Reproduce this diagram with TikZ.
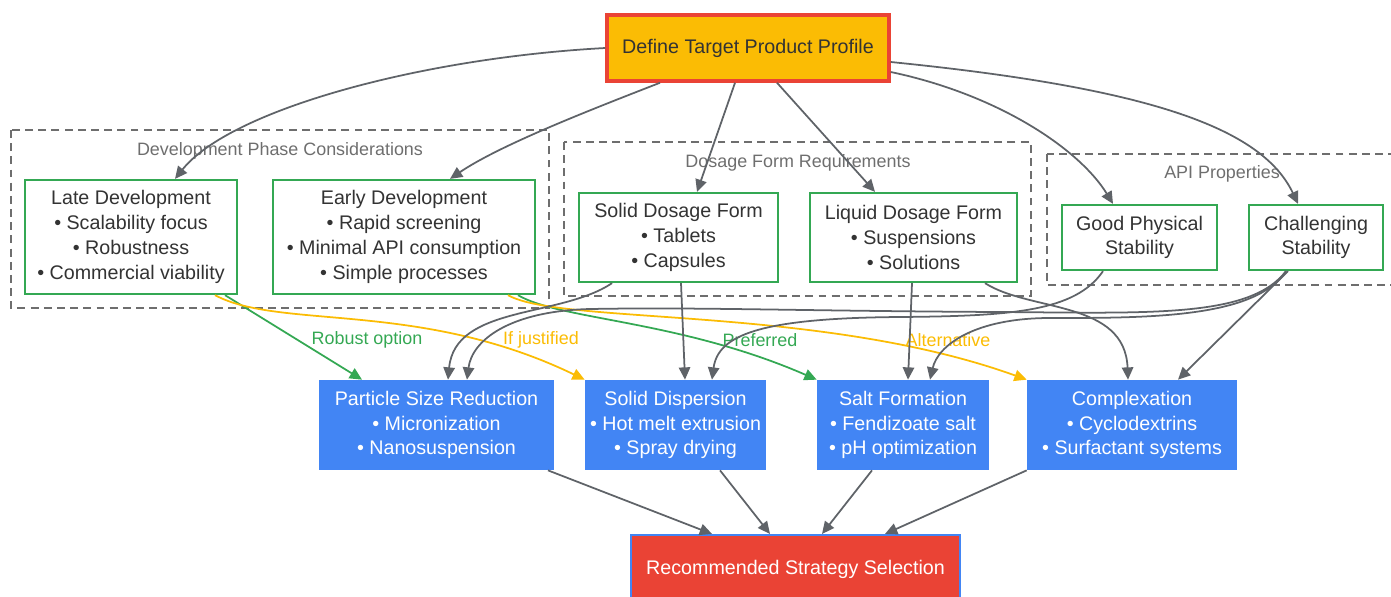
\documentclass[tikz,border=0pt]{standalone}
\usepackage{fontspec}
\setmainfont{Liberation Sans}
\usetikzlibrary{arrows.meta}
\definecolor{jaune}{HTML}{FBBC04}
\definecolor{rouge}{HTML}{EA4335}
\definecolor{vert}{HTML}{34A853}
\definecolor{bleu}{HTML}{4285F4}
\definecolor{grisfleche}{HTML}{5F6368}
\definecolor{griscadre}{HTML}{6E6E6E}
\definecolor{texte}{HTML}{333333}
\newcommand{\taillenormale}{\fontsize{11.2pt}{14.1pt}\selectfont}
\newcommand{\taillepetite}{\fontsize{10.2pt}{12pt}\selectfont}
\tikzstyle{boite} = [rectangle, align=center, font=\taillenormale, text=texte, inner sep=2pt]
\tikzstyle{profil} = [boite, draw=rouge, line width=2pt, fill=jaune]
\tikzstyle{critere} = [boite, draw=vert, line width=1.3pt, fill=white]
\tikzstyle{methode} = [boite, fill=bleu, text=white]
\tikzstyle{resultat} = [boite, draw=bleu, line width=1.2pt, fill=rouge, text=white]
\tikzstyle{cadre} = [draw=griscadre, dash pattern=on 4.5pt off 3pt, line width=0.9pt]
\tikzstyle{titre} = [text=griscadre, font=\taillepetite]
\tikzstyle{etiquette} = [font=\taillepetite]
\tikzstyle{lien} = [draw=grisfleche, line width=1pt, ->]

\begin{document}
\begin{tikzpicture}[x=0.02cm, y=-0.02cm, >={Triangle[length=7pt,width=6.5pt]}]

        \useasboundingbox (0,0) rectangle (1391,596);
        \clip (0,0) rectangle (1391,596);

        % groupes
        \draw[cadre] (11,130) rectangle (549,308);
        \draw[cadre] (564,142) rectangle (1031,296);
        \draw[cadre] (1047,154) rectangle (1420,285);
        \node (titredev) [titre] at (280,151) {Development Phase Considerations};
        \node (titreforme) [titre] at (798,163) {Dosage Form Requirements};
        \node (titreapi) [titre] at (1222,174) {API Properties};

        \node (cible) [profil, minimum width=5.64cm, minimum height=1.32cm] at (748,48) {Define Target Product Profile};

        \node (tardif) [critere, minimum width=4.24cm, minimum height=2.28cm] at (131,237) {Late Development\\• Scalability focus\\• Robustness\\• Commercial viability};
        \node (precoce) [critere, minimum width=5.24cm, minimum height=2.28cm] at (404,237) {Early Development\\• Rapid screening\\• Minimal API consumption\\• Simple processes};
        \node (solide) [critere, minimum width=3.98cm, minimum height=1.78cm] at (678.5,237.5) {Solid Dosage Form\\• Tablets\\• Capsules};
        \node (liquide) [critere, minimum width=4.14cm, minimum height=1.78cm] at (913.5,237.5) {Liquid Dosage Form\\• Suspensions\\• Solutions};
        \node (stable) [critere, minimum width=3.1cm, minimum height=1.3cm] at (1139.5,237.5) {Good Physical\\Stability};
        \node (instable) [critere, minimum width=2.68cm, minimum height=1.3cm] at (1316,237.5) {Challenging\\Stability};

        \node (taille) [methode, minimum width=4.7cm, minimum height=1.8cm] at (436.5,425) {Particle Size Reduction\\• Micronization\\• Nanosuspension};
        \node (dispersion) [methode, minimum width=3.62cm, minimum height=1.8cm] at (675.5,425) {Solid Dispersion\\• Hot melt extrusion\\• Spray drying};
        \node (sel) [methode, minimum width=3.44cm, minimum height=1.8cm] at (903,425) {Salt Formation\\• Fendizoate salt\\• pH optimization};
        \node (complexe) [methode, minimum width=4.2cm, minimum height=1.8cm] at (1132,425) {Complexation\\• Cyclodextrins\\• Surfactant systems};

        \node (choix) [resultat, minimum width=6.58cm, minimum height=1.36cm] at (795.5,569) {Recommended Strategy Selection};

        % depuis le profil
        \draw[lien] (cible.west) .. controls (420,58) and (230,110) .. ([xshift=0.88cm]tardif.north);
        \draw[lien] ([xshift=-1.76cm]cible.south) .. controls (590,110) and (500,145) .. ([xshift=0.92cm]precoce.north);
        \draw[lien] ([xshift=-0.26cm]cible.south) -- ([xshift=0.37cm]solide.north);
        \draw[lien] ([xshift=0.58cm]cible.south) -- ([xshift=-0.77cm]liquide.north);
        \draw[lien] ([yshift=-0.48cm]cible.east) .. controls (1000,95) and (1080,150) .. ([xshift=-0.53cm]stable.north);
        \draw[lien] ([yshift=-0.28cm]cible.east) .. controls (1150,88) and (1262,128) .. ([xshift=-0.36cm]instable.north);

        % phases
        \draw[lien, draw=vert, color=vert] ([xshift=1.88cm]tardif.south) -- ([xshift=-1.49cm]taille.north);
        \draw[lien, draw=jaune, color=jaune] ([xshift=1.68cm]tardif.south) .. controls (280,330) and (420,300) .. (dispersion.north west);
        \draw[lien, draw=vert, color=vert] ([xshift=2.28cm]precoce.south) .. controls (560,320) and (680,320) .. (sel.north west);
        \draw[lien, draw=jaune, color=jaune] ([xshift=2.08cm]precoce.south) .. controls (560,325) and (820,305) .. (complexe.north west);
        \node (robuste) [etiquette, text=vert] at (367,340) {Robust option};
        \node (justifie) [etiquette, text=jaune] at (541,340) {If justified};
        \node (prefere) [etiquette, text=vert] at (760,340) {Preferred};
        \node (autre) [etiquette, text=jaune] at (948,340) {Alternative};

        % formes et proprietes
        \draw[lien] ([xshift=-1.33cm]solide.south) .. controls (560,318) and (455,305) .. ([xshift=0.23cm]taille.north);
        \draw[lien] ([xshift=0.05cm]solide.south) -- ([xshift=0.19cm]dispersion.north);
        \draw[lien] ([xshift=-0.03cm]liquide.south) -- ([xshift=0.1cm]sel.north);
        \draw[lien] ([xshift=1.43cm]liquide.south) .. controls (1030,312) and (1125,300) .. ([xshift=-0.08cm]complexe.north);
        \draw[lien] ([xshift=-0.73cm]stable.south) .. controls (1075,312) and (1010,316) .. (900,317) .. controls (760,318) and (718,335) .. ([xshift=0.73cm]dispersion.north);
        \draw[lien] ([xshift=-0.6cm]instable.south) .. controls (1250,318) and (1150,313) .. (1000,312) .. controls (800,311) and (700,307) .. (590,309) .. controls (510,311) and (472,340) .. ([xshift=0.61cm]taille.north);
        \draw[lien] ([xshift=-0.6cm]instable.south) .. controls (1255,318) and (1150,318) .. (1050,318) .. controls (975,318) and (938,345) .. ([xshift=0.54cm]sel.north);
        \draw[lien] ([xshift=-0.56cm]instable.south) -- ([xshift=0.92cm]complexe.north);

        % vers le choix
        \draw[lien] ([xshift=2.23cm]taille.south) -- ([xshift=-1.67cm]choix.north);
        \draw[lien] ([xshift=0.89cm]dispersion.south) -- ([xshift=-0.51cm]choix.north);
        \draw[lien] ([xshift=-0.62cm]sel.south) -- ([xshift=0.53cm]choix.north);
        \draw[lien] (complexe.south west) -- ([xshift=1.79cm]choix.north);

    \end{tikzpicture}
\end{document}
